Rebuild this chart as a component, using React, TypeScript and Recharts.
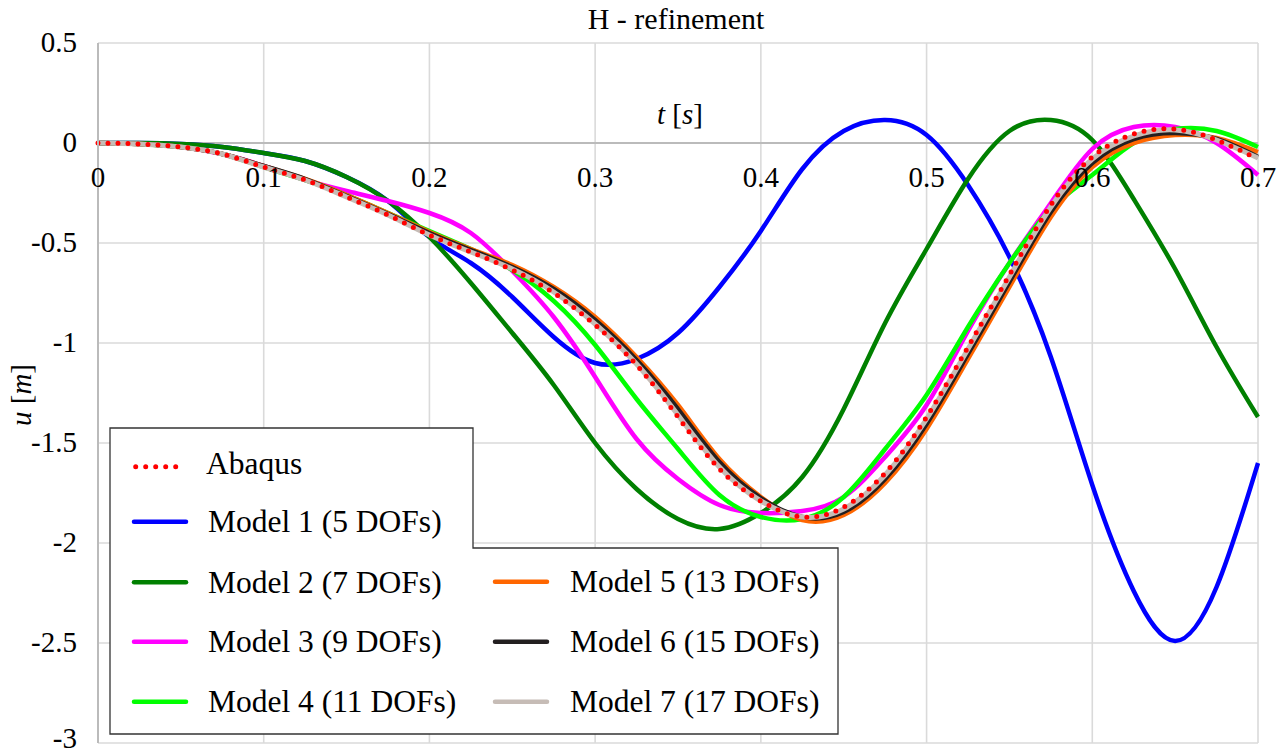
import { LineChart, Line, XAxis, YAxis, CartesianGrid, ReferenceLine, ReferenceDot, Customized } from 'recharts'

const FONT = '"Liberation Serif", "Times New Roman", serif'

// time samples [s]
const time = [0, 0.025, 0.05, 0.075, 0.1, 0.125, 0.15, 0.175, 0.2, 0.225, 0.25, 0.275, 0.3, 0.325, 0.35, 0.375, 0.4, 0.425, 0.45, 0.475, 0.5, 0.525, 0.55, 0.575, 0.6, 0.625, 0.65, 0.675, 0.7]

// displacement u [m]
const abaqus = [0, -0.005, -0.02, -0.055, -0.12, -0.185, -0.27, -0.36, -0.46, -0.545, -0.635, -0.75, -0.91, -1.11, -1.37, -1.63, -1.79, -1.87, -1.82, -1.65, -1.37, -1.02, -0.66, -0.31, -0.07, 0.045, 0.07, 0.015, -0.08]
const model1 = [0, 0, -0.005, -0.02, -0.05, -0.09, -0.17, -0.29, -0.47, -0.6, -0.77, -0.97, -1.1, -1.08, -0.95, -0.72, -0.44, -0.13, 0.06, 0.115, 0.04, -0.21, -0.57, -1.07, -1.71, -2.24, -2.49, -2.22, -1.6]
const model2 = [0, 0, -0.005, -0.02, -0.05, -0.09, -0.17, -0.29, -0.47, -0.7, -0.95, -1.21, -1.5, -1.73, -1.88, -1.93, -1.85, -1.67, -1.33, -0.9, -0.53, -0.18, 0.06, 0.115, 0.015, -0.28, -0.63, -1.02, -1.37]
const model3 = [0, -0.005, -0.02, -0.055, -0.115, -0.185, -0.24, -0.29, -0.35, -0.45, -0.64, -0.87, -1.17, -1.48, -1.68, -1.81, -1.85, -1.84, -1.77, -1.57, -1.31, -0.94, -0.6, -0.3, -0.03, 0.08, 0.08, 0, -0.16]
const model4 = [0, -0.005, -0.02, -0.055, -0.12, -0.185, -0.26, -0.35, -0.44, -0.53, -0.635, -0.79, -1.01, -1.28, -1.53, -1.76, -1.87, -1.88, -1.77, -1.53, -1.26, -0.92, -0.6, -0.33, -0.16, 0, 0.07, 0.06, -0.02]
const model5 = [0, -0.005, -0.02, -0.055, -0.115, -0.18, -0.26, -0.35, -0.445, -0.53, -0.61, -0.72, -0.87, -1.07, -1.31, -1.58, -1.77, -1.885, -1.86, -1.7, -1.43, -1.08, -0.72, -0.37, -0.12, 0, 0.04, 0.025, -0.045]
const model6 = [0, -0.005, -0.02, -0.055, -0.115, -0.18, -0.265, -0.355, -0.45, -0.535, -0.62, -0.73, -0.885, -1.085, -1.33, -1.595, -1.775, -1.87, -1.845, -1.68, -1.405, -1.055, -0.695, -0.345, -0.1, 0.02, 0.05, 0.02, -0.07]
const model7 = [0, -0.005, -0.02, -0.055, -0.12, -0.185, -0.27, -0.36, -0.46, -0.545, -0.63, -0.745, -0.905, -1.105, -1.36, -1.62, -1.79, -1.87, -1.83, -1.66, -1.38, -1.03, -0.67, -0.32, -0.08, 0.035, 0.065, 0.015, -0.075]

const xTicks = [0, 0.1, 0.2, 0.3, 0.4, 0.5, 0.6, 0.7]
const yTicks = [-3, -2.5, -2, -1.5, -1, -0.5, 0, 0.5]

const models = [
  { key: 'm1', name: 'Model 1 (5 DOFs)', color: '#0000ff', values: model1 },
  { key: 'm2', name: 'Model 2 (7 DOFs)', color: '#008000', values: model2 },
  { key: 'm3', name: 'Model 3 (9 DOFs)', color: '#ff00ff', values: model3 },
  { key: 'm4', name: 'Model 4 (11 DOFs)', color: '#00ff00', values: model4 },
  { key: 'm5', name: 'Model 5 (13 DOFs)', color: '#ff6600', values: model5 },
  { key: 'm6', name: 'Model 6 (15 DOFs)', color: '#231f20', values: model6 },
  { key: 'm7', name: 'Model 7 (17 DOFs)', color: '#c6bcb6', values: model7 },
]

const data = time.map((t, i) => {
  const row: Record<string, number> = { t, abaqus: abaqus[i] }
  models.forEach((m) => {
    row[m.key] = m.values[i]
  })
  return row
})

// legend rows (two columns)
const col1 = [521.7, 582.3, 641.7, 701.7]
const col2 = [581.7, 641.7, 701.7]

function Overlay() {
  return (
    <g fontFamily={FONT} fontSize={29} fill="#000">
      <text x={676} y={29} textAnchor="middle" fontSize={30}>H - refinement</text>
      <text x={31} y={395} textAnchor="middle" transform="rotate(-90, 31, 395)">
        <tspan fontStyle="italic">u</tspan> [<tspan fontStyle="italic">m</tspan>]
      </text>

      <path d="M110,428 H473 V548 H838 V734 H110 Z" fill="#fff" stroke="#333" strokeWidth={1.3} />
      <g fontSize={31.5}>
        <line x1={135.7} x2={176} y1={466.7} y2={466.7} stroke="#ff0000" strokeWidth={5} strokeDasharray="0 10" strokeLinecap="round" />
        <text x={206} y={474}>Abaqus</text>
        {models.slice(0, 4).map((m, i) => (
          <g key={m.key}>
            <line x1={134} x2={186} y1={col1[i]} y2={col1[i]} stroke={m.color} strokeWidth={4.5} strokeLinecap="round" />
            <text x={208} y={col1[i] + 10.5}>{m.name}</text>
          </g>
        ))}
        {models.slice(4).map((m, i) => (
          <g key={m.key}>
            <line x1={495} x2={547} y1={col2[i]} y2={col2[i]} stroke={m.color} strokeWidth={4.5} strokeLinecap="round" />
            <text x={570} y={col2[i] + 10.5}>{m.name}</text>
          </g>
        ))}
      </g>
    </g>
  )
}

function YTick(props: any) {
  const { x, y, payload } = props
  // keep the lowest label inside the picture
  const dy = payload.value === -3 ? 5 : 9
  return (
    <text x={x} y={y + dy} textAnchor="end" fontSize={29} fontFamily={FONT} fill="#000">
      {String(payload.value)}
    </text>
  )
}

export default function App() {
  return (
    <div style={{ position: 'absolute', left: 0, top: 0, background: '#fff' }}>
      <LineChart width={1287} height={755} data={data} margin={{ top: 43, right: 29, bottom: 12, left: 38 }}>
        <CartesianGrid stroke="#dadada" strokeWidth={1.6} />
        <XAxis dataKey="t" type="number" domain={[0, 0.7]} ticks={xTicks} hide />
        <YAxis
          type="number"
          domain={[-3, 0.5]}
          ticks={yTicks}
          interval={0}
          width={60}
          tickSize={0}
          tickMargin={21}
          tickLine={false}
          axisLine={{ stroke: '#bbbbbb', strokeWidth: 2 }}
          tick={<YTick />}
        />
        <ReferenceLine y={0} stroke="#bbbbbb" strokeWidth={2} />
        {models.map((m) => (
          <Line
            key={m.key}
            dataKey={m.key}
            name={m.name}
            type="natural"
            stroke={m.color}
            strokeWidth={m.key === 'm7' ? 5 : 4.5}
            dot={false}
            isAnimationActive={false}
          />
        ))}
        <Line
          dataKey="abaqus"
          name="Abaqus"
          type="natural"
          stroke="#ff0000"
          strokeWidth={5}
          strokeDasharray="0 10"
          strokeLinecap="round"
          dot={false}
          isAnimationActive={false}
        />
        {xTicks.map((v) => (
          <ReferenceDot
            key={v}
            x={v}
            y={0}
            r={0}
            ifOverflow="visible"
            shape={(p: any) => (
              <text x={p.cx} y={p.cy + 44} textAnchor="middle" fontSize={29} fontFamily={FONT} fill="#000">
                {String(v)}
              </text>
            )}
          />
        ))}
        <ReferenceDot
          x={0.35}
          y={0}
          r={0}
          ifOverflow="visible"
          shape={(p: any) => (
            <text x={p.cx + 2} y={p.cy - 19} textAnchor="middle" fontSize={29} fontFamily={FONT} fill="#000">
              <tspan fontStyle="italic">t</tspan> [<tspan fontStyle="italic">s</tspan>]
            </text>
          )}
        />
        <Customized component={Overlay} />
      </LineChart>
    </div>
  )
}
